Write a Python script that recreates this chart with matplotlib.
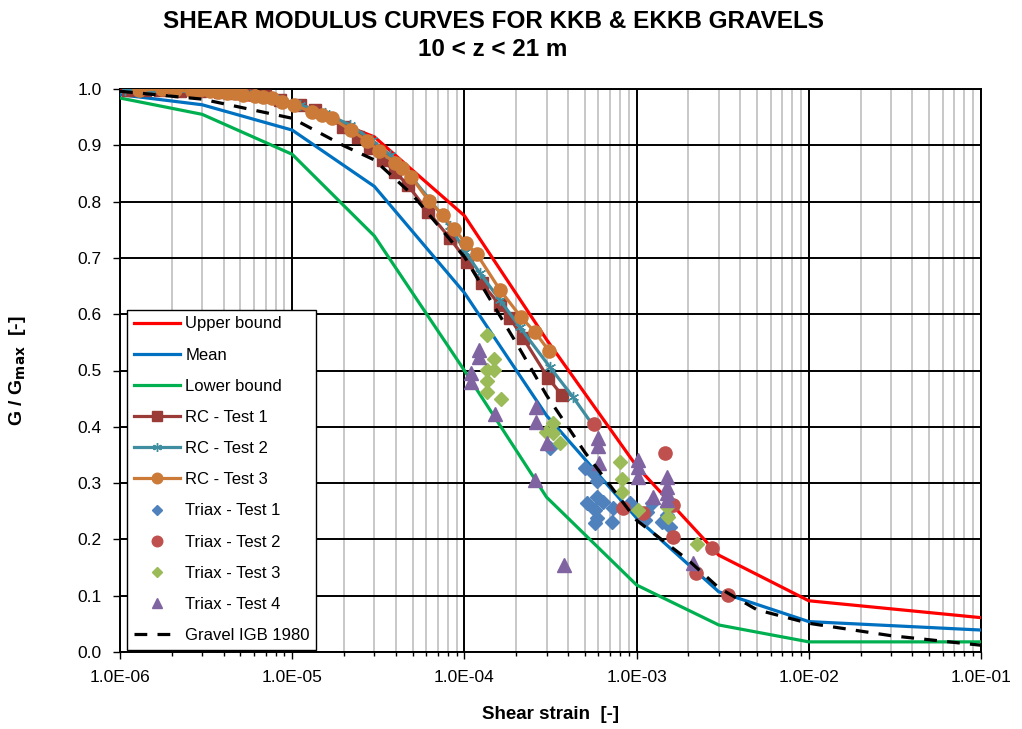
import matplotlib
matplotlib.use("Agg")
import matplotlib.pyplot as plt
from matplotlib.ticker import LogLocator, NullFormatter

plt.rcParams['font.family'] = ['Liberation Sans', 'DejaVu Sans']

# design curves
bound_x = [1e-6, 3e-6, 1e-5, 3e-5, 1e-4, 3e-4, 1e-3, 3e-3, 1e-2, 1e-1]
upper_g = [1.0, 0.99, 0.972, 0.915, 0.775, 0.555, 0.33, 0.172, 0.091, 0.061]
mean_g = [0.99, 0.972, 0.927, 0.827, 0.638, 0.42, 0.238, 0.107, 0.054, 0.039]
lower_g = [0.984, 0.955, 0.884, 0.739, 0.50, 0.275, 0.119, 0.048, 0.018, 0.018]

igb_x = [1e-6, 3e-6, 1e-5, 2e-5, 3e-5, 5e-5, 1e-4, 2e-4, 3e-4, 5e-4, 1e-3, 2e-3,
         3e-3, 5e-3, 1e-2, 3e-2, 1e-1]
igb_g = [0.996, 0.982, 0.948, 0.899, 0.874, 0.812, 0.702, 0.549, 0.456, 0.355,
         0.234, 0.163, 0.114, 0.075, 0.051, 0.029, 0.012]

# resonant column tests
rc1_x = [1.11e-6, 1.40e-6, 1.71e-6, 2.23e-6, 2.91e-6, 3.81e-6, 4.65e-6, 5.69e-6,
         6.95e-6, 8.49e-6, 1.11e-5, 1.36e-5, 1.97e-5, 2.41e-5, 2.83e-5, 3.37e-5,
         3.95e-5, 4.70e-5, 6.15e-5, 8.24e-5, 1.04e-4, 1.26e-4, 1.61e-4, 1.84e-4,
         2.19e-4, 3.06e-4, 3.69e-4]
rc1_g = [0.998, 0.998, 0.998, 0.996, 0.996, 0.995, 0.993, 0.991, 0.988, 0.980,
         0.972, 0.963, 0.933, 0.915, 0.895, 0.874, 0.853, 0.829, 0.782, 0.735,
         0.693, 0.655, 0.616, 0.593, 0.558, 0.487, 0.456]

rc2_x = [1.07e-6, 1.49e-6, 2.09e-6, 2.91e-6, 4.07e-6, 5.69e-6, 7.94e-6, 1.11e-5,
         1.55e-5, 2.17e-5, 2.91e-5, 3.70e-5, 4.83e-5, 6.31e-5, 8.24e-5, 1.01e-4,
         1.23e-4, 1.61e-4, 2.10e-4, 3.14e-4, 4.27e-4, 5.51e-4]
rc2_g = [0.998, 0.998, 0.996, 0.995, 0.993, 0.989, 0.984, 0.972, 0.957, 0.936,
         0.909, 0.883, 0.847, 0.803, 0.757, 0.711, 0.673, 0.625, 0.577, 0.506,
         0.453, 0.405]

rc3_x = [1.29e-6, 1.75e-6, 2.09e-6, 2.62e-6, 2.91e-6, 3.33e-6, 3.71e-6, 4.18e-6,
         4.65e-6, 5.18e-6, 6.08e-6, 6.77e-6, 7.63e-6, 8.73e-6, 1.02e-5, 1.30e-5,
         1.49e-5, 1.70e-5, 2.19e-5, 2.72e-5, 3.19e-5, 3.95e-5, 4.34e-5, 4.90e-5,
         6.23e-5, 7.51e-5, 8.71e-5, 1.02e-4, 1.18e-4, 1.61e-4, 2.13e-4, 2.57e-4,
         3.10e-4]
rc3_g = [0.998, 1.0, 0.998, 0.996, 0.998, 0.996, 0.995, 0.993, 0.993, 0.989,
         0.988, 0.986, 0.984, 0.977, 0.972, 0.959, 0.954, 0.948, 0.927, 0.908,
         0.890, 0.869, 0.860, 0.844, 0.801, 0.776, 0.751, 0.726, 0.707, 0.643,
         0.595, 0.568, 0.535]

# triaxial tests
tx1_x = [3.14e-4, 5.01e-4, 5.51e-4, 5.89e-4, 5.15e-4, 5.89e-4, 6.38e-4, 5.73e-4,
         5.89e-4, 5.73e-4, 7.29e-4, 7.19e-4, 9.16e-4, 1.15e-3, 1.12e-3, 1.23e-3,
         1.41e-3, 1.50e-3, 1.56e-3]
tx1_g = [0.362, 0.327, 0.320, 0.304, 0.265, 0.275, 0.266, 0.252, 0.238, 0.229,
         0.256, 0.231, 0.265, 0.249, 0.234, 0.265, 0.231, 0.243, 0.222]

tx2_x = [5.66e-4, 1.46e-3, 8.34e-4, 1.09e-3, 1.63e-3, 1.63e-3, 2.74e-3, 2.21e-3, 3.40e-3]
tx2_g = [0.405, 0.353, 0.256, 0.247, 0.261, 0.204, 0.185, 0.140, 0.101]

tx3_x = [1.35e-4, 1.49e-4, 1.35e-4, 1.49e-4, 1.35e-4, 1.35e-4, 1.63e-4, 3.27e-4,
         2.98e-4, 3.27e-4, 3.59e-4, 8.01e-4, 8.23e-4, 8.23e-4, 1.02e-3, 1.50e-3,
         1.52e-3, 2.24e-3]
tx3_g = [0.563, 0.520, 0.501, 0.501, 0.481, 0.462, 0.449, 0.407, 0.391, 0.389,
         0.371, 0.337, 0.307, 0.284, 0.252, 0.258, 0.240, 0.192]

tx4_x = [1.22e-4, 1.22e-4, 1.09e-4, 1.09e-4, 1.51e-4, 2.61e-4, 2.61e-4, 3.02e-4,
         5.97e-4, 5.97e-4, 6.05e-4, 1.02e-3, 1.02e-3, 1.02e-3, 1.25e-3, 1.50e-3,
         1.50e-3, 1.50e-3, 1.50e-3, 2.57e-4, 3.79e-4, 2.13e-3]
tx4_g = [0.536, 0.524, 0.496, 0.480, 0.423, 0.435, 0.409, 0.371, 0.380, 0.366,
         0.336, 0.341, 0.329, 0.311, 0.275, 0.311, 0.293, 0.282, 0.270, 0.306,
         0.155, 0.158]

fig = plt.figure(figsize=(10.22, 7.29), dpi=100)
ax = fig.add_axes([120 / 1022, 77 / 729, 861 / 1022, 563 / 729])

ax.plot(bound_x, upper_g, color='#FF0000', lw=2.3, label='Upper bound', zorder=3)
ax.plot(bound_x, mean_g, color='#0070C0', lw=2.3, label='Mean', zorder=3)
ax.plot(bound_x, lower_g, color='#00B050', lw=2.3, label='Lower bound', zorder=3)
ax.plot(rc1_x, rc1_g, color='#9B3B38', lw=2.3, marker='s', ms=8.5,
        mec='#9B3B38', label='RC - Test 1', zorder=4)
ax.plot(rc2_x, rc2_g, color='#3E8DA0', lw=2.3, marker=(6, 2, 0), ms=8, mew=1,
        mec='#3E8DA0', label='RC - Test 2', zorder=4)
ax.plot(rc3_x, rc3_g, color='#CB7A38', lw=2.3, marker='o', ms=9.5,
        mec='#CB7A38', label='RC - Test 3', zorder=4)
ax.plot(tx1_x, tx1_g, ls='none', marker='D', ms=7, color='#4F81BD',
        label='Triax - Test 1', zorder=5)
ax.plot(tx2_x, tx2_g, ls='none', marker='o', ms=9.5, color='#C0504D',
        label='Triax - Test 2', zorder=5)
ax.plot(tx3_x, tx3_g, ls='none', marker='D', ms=7, color='#9BBB59',
        label='Triax - Test 3', zorder=5)
ax.plot(tx4_x, tx4_g, ls='none', marker='^', ms=9.5, color='#8064A2',
        label='Triax - Test 4', zorder=5)
ax.plot(igb_x, igb_g, color='black', lw=2.3, ls=(0, (4, 3.2)),
        label='Gravel IGB 1980', zorder=6)

ax.set_xscale('log')
ax.set_xlim(1e-6, 1e-1)
ax.set_ylim(0, 1.0)
ax.set_yticks([i / 10 for i in range(11)])
ax.yaxis.set_major_formatter(plt.FuncFormatter(lambda v, p: f'{v:.1f}'))
ax.xaxis.set_major_locator(LogLocator(base=10, numticks=10))
ax.xaxis.set_minor_locator(LogLocator(base=10, subs=range(2, 10), numticks=20))
ax.xaxis.set_minor_formatter(NullFormatter())
ax.xaxis.set_major_formatter(plt.FuncFormatter(lambda v, p: f'{v:.1E}'))

ax.grid(which='major', color='black', lw=1.4, zorder=1)
ax.grid(which='minor', axis='x', color='#C4C4C4', lw=1.3, zorder=0)
ax.set_axisbelow(True)
for s in ax.spines.values():
    s.set_color('black')
    s.set_linewidth(1.4)

ax.tick_params(which='major', direction='out', length=5, width=1, labelsize=12.5, pad=8)
ax.tick_params(which='minor', direction='out', length=3, width=1)

ax.set_xlabel('Shear strain  [-]', fontsize=13.5, fontweight='bold')
ax.xaxis.set_label_coords(0.5, -54 / 563)
ax.set_ylabel(r'G / G$_{\mathbf{max}}$  [-]', fontsize=14, fontweight='bold')
ax.yaxis.set_label_coords(-92 / 861, 0.5)

fig.text(493 / 1022, 1 - 21 / 729, 'SHEAR MODULUS CURVES FOR KKB & EKKB GRAVELS',
         ha='center', va='center', fontsize=17.5, fontweight='bold')
fig.text(493 / 1022, 1 - 49 / 729, '10 < z < 21 m',
         ha='center', va='center', fontsize=17.5, fontweight='bold')

leg = ax.legend(loc='lower left', bbox_to_anchor=(0.008, 0.004), borderaxespad=0,
                fontsize=12, handlelength=2.8, handletextpad=0.3, labelspacing=0.97,
                borderpad=0.4, fancybox=False, framealpha=1, edgecolor='black',
                markerscale=0.8)
leg.get_frame().set_linewidth(1.0)
leg.set_zorder(10)

fig.savefig('out.png', dpi=100)
